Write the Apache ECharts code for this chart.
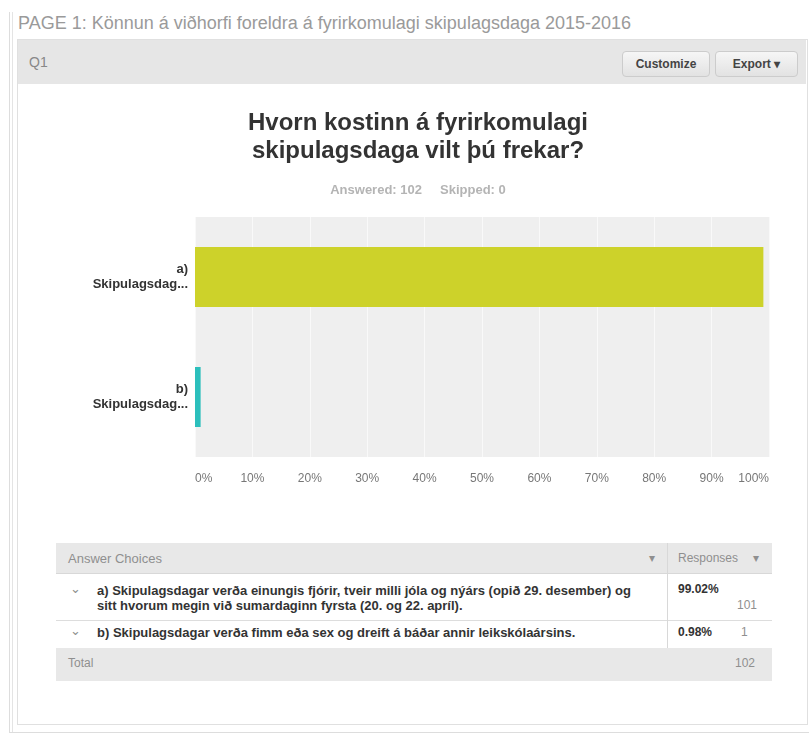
<!DOCTYPE html>
<html lang="is">

<head>
    <meta charset="UTF-8">
    <title>Q1 - skipulagsdagar</title>
    <script src="https://cdn.jsdelivr.net/npm/echarts@6/dist/echarts.min.js"></script>
    <style>
        body { margin: 0; background: #fff; font-family: "Liberation Sans", Arial, sans-serif; }
        .abs { position: absolute; }
        .frameL { left: 9px; top: 12px; width: 2px; height: 721px; border-left: 1px solid #ddd; border-right: 1px solid #e4e4e4; }
        .frameB { left: 9px; top: 732px; width: 800px; height: 0; border-top: 1px solid #ddd; }
        .pageTitle { left: 18px; top: 13px; font-size: 18px; color: #9a9a9a; white-space: nowrap; }
        .panel { left: 17px; top: 39px; width: 789px; height: 684px; border: 1px solid #e0e0e0; background: #fff; }
        .head { left: 18px; top: 40px; width: 788px; height: 44px; background: #e6e6e6; }
        .q1 { left: 29px; top: 54px; font-size: 14px; color: #888; }
        .btn { top: 51px; height: 24px; line-height: 24px; text-align: center; font-size: 12px; font-weight: bold; color: #444;
               border: 1px solid #ccc; border-radius: 4px; background: linear-gradient(#f6f6f6, #e2e2e2); }
        #main { left: 18px; top: 86px; width: 788px; height: 420px; }
        .tbl { left: 56px; width: 716px; }
        .gray { background: #e8e8e8; }
        .t { font-size: 13px; white-space: nowrap; line-height: 15px; }
        .b { font-weight: bold; color: #333; }
        .muted { color: #8f8f8f; }
        .sm { font-size: 12px; }
    </style>
</head>

<body>
    <div class="abs frameL"></div>
    <div class="abs frameB"></div>
    <div class="abs pageTitle">PAGE 1: Könnun á viðhorfi foreldra á fyrirkomulagi skipulagsdaga 2015-2016</div>
    <div class="abs panel"></div>
    <div class="abs head"></div>
    <div class="abs q1">Q1</div>
    <div class="abs btn" style="left:622px;width:86px;">Customize</div>
    <div class="abs btn" style="left:715px;width:81px;">Export ▾</div>

    <!-- myndin sjálf -->
    <div id="main" class="abs"></div>

    <!-- taflan fyrir neðan -->
    <div id="table"></div>

    <script>
        // gögn
        const questionTitle = "Hvorn kostinn á fyrirkomulagi\nskipulagsdaga vilt þú frekar?";
        const answeredText = "Answered: 102     Skipped: 0";
        const categories = ["a)\nSkipulagsdag...", "b)\nSkipulagsdag..."];
        const percentages = [99.02, 0.98];
        const counts = [101, 1];
        const totalCount = 102;
        const barColors = ["#cdd22a", "#2cbfbc"];
        const choiceLines = [
            ["a) Skipulagsdagar verða einungis fjórir, tveir milli jóla og nýárs (opið 29. desember) og",
             "sitt hvorum megin við sumardaginn fyrsta (20. og 22. apríl)."],
            ["b) Skipulagsdagar verða fimm eða sex og dreift á báðar annir leikskólaársins."]
        ];

        const myChart = echarts.init(document.getElementById('main'));
        const fontFam = '"Liberation Sans", Arial, sans-serif';

        let option = {
            animation: false,
            title: [
                {
                    text: questionTitle,
                    left: 395,
                    top: 18,
                    textAlign: 'center',
                    textStyle: { fontFamily: fontFam, fontSize: 24, fontWeight: 'bold', color: '#333', lineHeight: 28 }
                },
                {
                    text: answeredText,
                    left: 395,
                    top: 93,
                    textAlign: 'center',
                    textStyle: { fontFamily: fontFam, fontSize: 13, fontWeight: 'bold', color: '#b4b4b4' }
                }
            ],
            grid: {
                left: 177, right: 37, top: 131, height: 240,
                show: true, backgroundColor: '#efefef', borderWidth: 0
            },
            xAxis: {
                type: 'value', min: 0, max: 100, interval: 10,
                axisLine: { show: false }, axisTick: { show: false },
                splitLine: { lineStyle: { color: '#f9f9f9', width: 1 } },
                axisLabel: {
                    formatter: '{value}%', color: '#777', fontSize: 12, fontFamily: fontFam,
                    margin: 16, alignMinLabel: 'left', alignMaxLabel: 'right'
                }
            },
            yAxis: {
                type: 'category', data: categories, inverse: true,
                axisLine: { show: false }, axisTick: { show: false },
                axisLabel: { color: '#333', fontSize: 13, fontWeight: 'bold', fontFamily: fontFam, lineHeight: 15, margin: 7, align: 'right' }
            },
            series: [{
                type: 'bar',
                barWidth: '50%',
                data: percentages.map((v, i) => ({ value: v, itemStyle: { color: barColors[i] } }))
            }]
        };
        myChart.setOption(option);

        // tafla
        function cell(x, y, html, cls) {
            return `<div class="abs t ${cls || ''}" style="left:${x}px;top:${y}px;">${html}</div>`;
        }
        let h = '';
        h += `<div class="abs tbl gray" style="top:543px;height:30px;border-bottom:1px solid #d8d8d8;"></div>`;
        h += `<div class="abs tbl" style="top:574px;height:46px;border-bottom:1px solid #ddd;"></div>`;
        h += `<div class="abs tbl gray" style="top:648px;height:33px;"></div>`;
        h += `<div class="abs" style="left:667px;top:543px;width:1px;height:105px;background:#d8d8d8;"></div>`;
        h += cell(68, 551, 'Answer Choices', 'muted');
        h += cell(649, 551, '▾', 'muted sm');
        h += cell(678, 551, 'Responses', 'muted sm');
        h += cell(753, 551, '▾', 'muted sm');
        // röð a
        h += cell(70, 581, '⌄', 'muted');
        h += cell(97, 583, choiceLines[0][0], 'b');
        h += cell(97, 598, choiceLines[0][1], 'b');
        h += cell(678, 582, percentages[0].toFixed(2) + '%', 'b sm');
        h += cell(737, 598, counts[0], 'muted sm');
        // röð b
        h += cell(70, 623, '⌄', 'muted');
        h += cell(97, 625, choiceLines[1][0], 'b');
        h += cell(678, 625, percentages[1].toFixed(2) + '%', 'b sm');
        h += cell(741, 625, counts[1], 'muted sm');
        // samtals
        h += cell(68, 656, 'Total', 'muted sm');
        h += cell(735, 656, totalCount, 'muted sm');
        document.getElementById('table').innerHTML = h;
    </script>
</body>

</html>
